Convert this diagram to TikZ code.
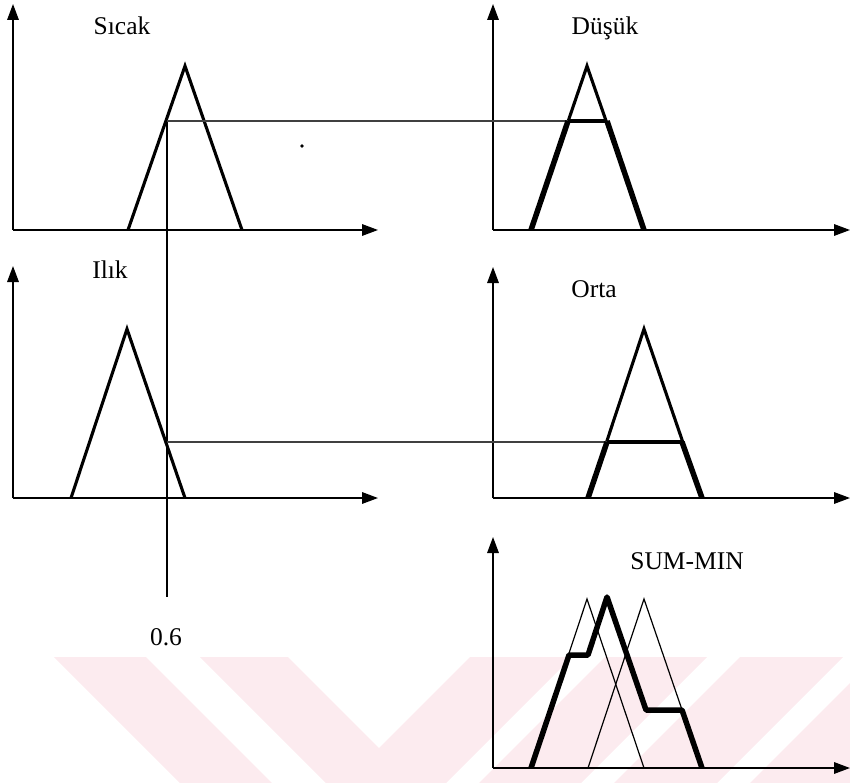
\documentclass[tikz,border=0pt]{standalone}
\usepackage{fontspec}
\setmainfont{Liberation Serif}
\usetikzlibrary{arrows.meta}
\definecolor{wmpink}{RGB}{252,235,239}
\begin{document}
\begin{tikzpicture}[x=1pt,y=-1pt,
  axis/.style={line width=1.6pt,-{Triangle[length=16pt,width=11.5pt]}},
  mf/.style={line width=3.1pt,line join=miter},
  mfthick/.style={line width=5.5pt,line join=round},
  cutline/.style={line width=4.2pt},
  guide/.style={line width=1.1pt,black!75},
  vguide/.style={line width=2.7pt},
  faint/.style={line width=1.2pt,line join=miter},
  lbl/.style={font=\fontsize{25.5}{30}\selectfont,anchor=base,inner sep=0pt}]
\useasboundingbox (0,0) rectangle (850,783);
% watermark band
\begin{scope}
\clip (0,657) rectangle (850,783);
\fill[wmpink] (54,657) -- (146,657) -- (272,783) -- (180,783) -- cycle;
\fill[wmpink] (200,657) -- (288,657) -- (414,783) -- (326,783) -- cycle;
\fill[wmpink] (470,657) -- (572,657) -- (446,783) -- (344,783) -- cycle;
\fill[wmpink] (605,657) -- (707,657) -- (581,783) -- (479,783) -- cycle;
\fill[wmpink] (740,657) -- (843,657) -- (717,783) -- (614,783) -- cycle;
\fill[wmpink] (876,657) -- (980,657) -- (854,783) -- (750,783) -- cycle;
\end{scope}
% ---------- coordinates ----------
\coordinate (o1) at (13,230);  \coordinate (y1) at (13,4);   \coordinate (x1) at (378,230);
\coordinate (o2) at (493,230); \coordinate (y2) at (493,4);  \coordinate (x2) at (850,230);
\coordinate (o3) at (13,498);  \coordinate (y3) at (13,266); \coordinate (x3) at (378,498);
\coordinate (o4) at (493,498); \coordinate (y4) at (493,267);\coordinate (x4) at (850,498);
\coordinate (o5) at (493,768); \coordinate (y5) at (493,537);\coordinate (x5) at (850,768);
% Sicak
\coordinate (sa) at (128,230); \coordinate (sp) at (185,66); \coordinate (sb) at (242,230);
% Ilik
\coordinate (ia) at (71,498); \coordinate (ip) at (127,329); \coordinate (ib) at (185,498);
% Dusuk
\coordinate (da) at (531,230); \coordinate (dp) at (587,66); \coordinate (db) at (644,230);
\coordinate (dl) at (568,121); \coordinate (dr) at (607,121);
% Orta
\coordinate (ra) at (588,498); \coordinate (rp) at (644,329); \coordinate (rb) at (702,498);
\coordinate (rl) at (607,442); \coordinate (rr) at (682,442);
% input line
\coordinate (v1) at (167,121); \coordinate (v2) at (167,442); \coordinate (v3) at (167,597);
% SUM-MIN
\coordinate (m1a) at (531,768); \coordinate (m1p) at (587,599); \coordinate (m1b) at (644,768);
\coordinate (m2a) at (588,768); \coordinate (m2p) at (644,599); \coordinate (m2b) at (702,768);
\coordinate (k1) at (569,655); \coordinate (k2) at (588,655); \coordinate (k3) at (607,597);
\coordinate (k4) at (646,710); \coordinate (k5) at (682,710);
% ---------- axes ----------
\foreach \i in {1,...,5}{
  \draw[axis] (o\i) -- (y\i);
  \draw[axis] (o\i) -- (x\i);
}
% ---------- membership functions ----------
\draw[mf] (sa) -- (sp) -- (sb);
\draw[mf] (ia) -- (ip) -- (ib);
\draw[mf] (da) -- (dp) -- (db);
\draw[mf] (ra) -- (rp) -- (rb);
% guides
\draw[vguide] (v1) -- (v3);
\draw[guide] (v1) -- (dl);
\draw[guide] (v2) -- (rl);
% clipped parts
\draw[mfthick] (da) -- (dl);
\draw[mfthick] (dr) -- (db);
\draw[cutline] (dl) -- (dr);
\draw[mfthick] (ra) -- (rl);
\draw[mfthick] (rr) -- (rb);
\draw[cutline] (rl) -- (rr);
% SUM-MIN
\draw[faint] (m1a) -- (m1p) -- (m1b);
\draw[faint] (m2a) -- (m2p) -- (m2b);
\draw[mfthick] (m1a) -- (k1) -- (k2) -- (k3) -- (k4) -- (k5) -- (m2b);
% stray speck
\fill (302,146) circle (1.8pt);
% ---------- labels ----------
\node[lbl] (lsicak) at (122,35) {Sıcak};
\node[lbl] (ldusuk) at (605,35) {Düşük};
\node[lbl] (lilik) at (110,278) {Ilık};
\node[lbl] (lorta) at (594,298) {Orta};
\node[lbl] (lsum) at (687,569) {SUM-MIN};
\node[lbl] (lval) at (166,645) {0.6};
\end{tikzpicture}
\end{document}
